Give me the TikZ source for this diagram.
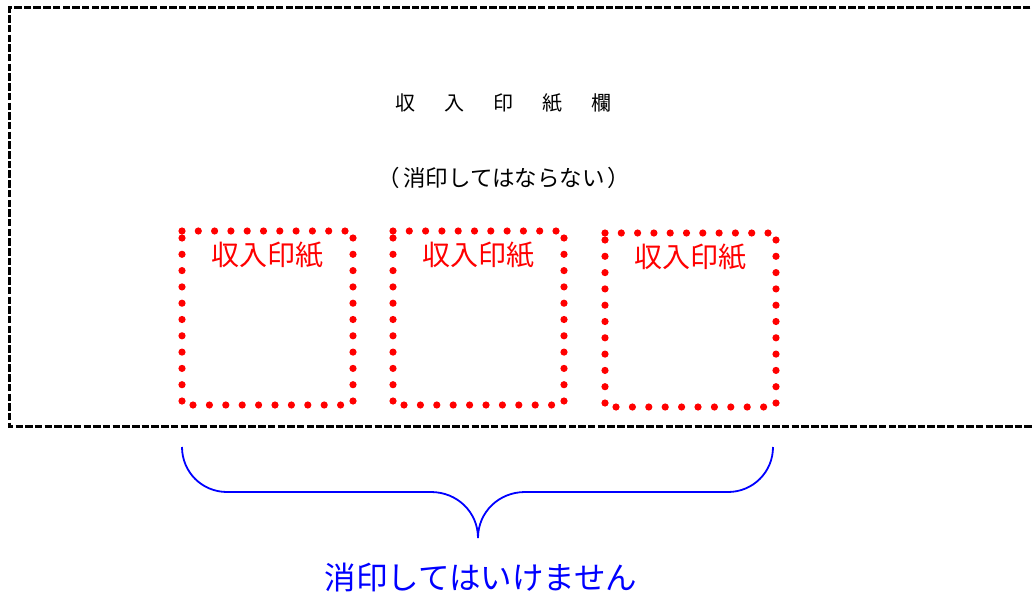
\documentclass[tikz,border=0pt]{standalone}
\usepackage{fontspec}
\newfontfamily\jp{Noto Sans CJK JP}
\definecolor{stampred}{RGB}{255,0,0}
\definecolor{braceblue}{RGB}{0,0,255}
\tikzset{
  frame/.style={line width=2.8pt, dash pattern=on 7.5pt off 2.2pt},
  dotmark/.style={fill=stampred, draw=none},
  stamptext/.style={text=stampred, font=\jp\fontsize{28}{28}\selectfont, inner sep=0pt},
  bracestyle/.style={draw=braceblue, line width=1.8pt},
  label/.style={font=\jp, inner sep=0pt}
}
\newcommand{\stampbox}[3]{%
  \begin{scope}[shift={(#1,#2)}]
    \node[draw=none, minimum width=171pt, minimum height=174pt, anchor=north west, inner sep=0pt] (#3) at (0,0) {};
    \foreach \i in {0,...,10} {\fill[dotmark] (\i*16.3,0) circle (3.6pt);}
    \foreach \i in {0,...,10} {\fill[dotmark] (0,7+\i*16.3) circle (3.6pt);}
    \foreach \i in {0,...,10} {\fill[dotmark] (171,7+\i*16.3) circle (3.6pt);}
    \foreach \i in {0,...,9} {\fill[dotmark] (11+\i*16.4,174) circle (3.6pt);}
    \node[stamptext] (#3t) at (85.5,24) {収入印紙};
  \end{scope}}
\begin{document}
\begin{tikzpicture}[x=1pt,y=-1pt]
\useasboundingbox (0,0) rectangle (1032,594);
\draw[frame] (1040,7.5) -- (9.8,7.5) -- (9.8,426.5) -- (1040,426.5);
\node[label, font=\jp\fontsize{20}{20}\selectfont] (title) at (503,103) {収\hspace{29pt}入\hspace{29pt}印\hspace{29pt}紙\hspace{29pt}欄};
\node[label, font=\jp\fontsize{22.5}{23}\selectfont] (note) at (504,178) {（\hspace{3pt}消印してはならない\hspace{3pt}）};
\stampbox{182}{231}{s1}
\stampbox{393}{231}{s2}
\stampbox{605}{233}{s3}
\coordinate (bl) at (182,447);
\coordinate (br) at (773,447);
\coordinate (tip) at (478,538);
\draw[bracestyle] (bl) .. controls (182,472) and (202,492) .. (227,492) -- (431,492)
   .. controls (457,492) and (478,512) .. (tip)
   .. controls (478,512) and (499,492) .. (525,492) -- (728,492)
   .. controls (753,492) and (773,472) .. (br);
\node[label, text=braceblue, font=\jp\fontsize{31.5}{32}\selectfont] (warn) at (481,578) {消印してはいけません};
\end{tikzpicture}
\end{document}
